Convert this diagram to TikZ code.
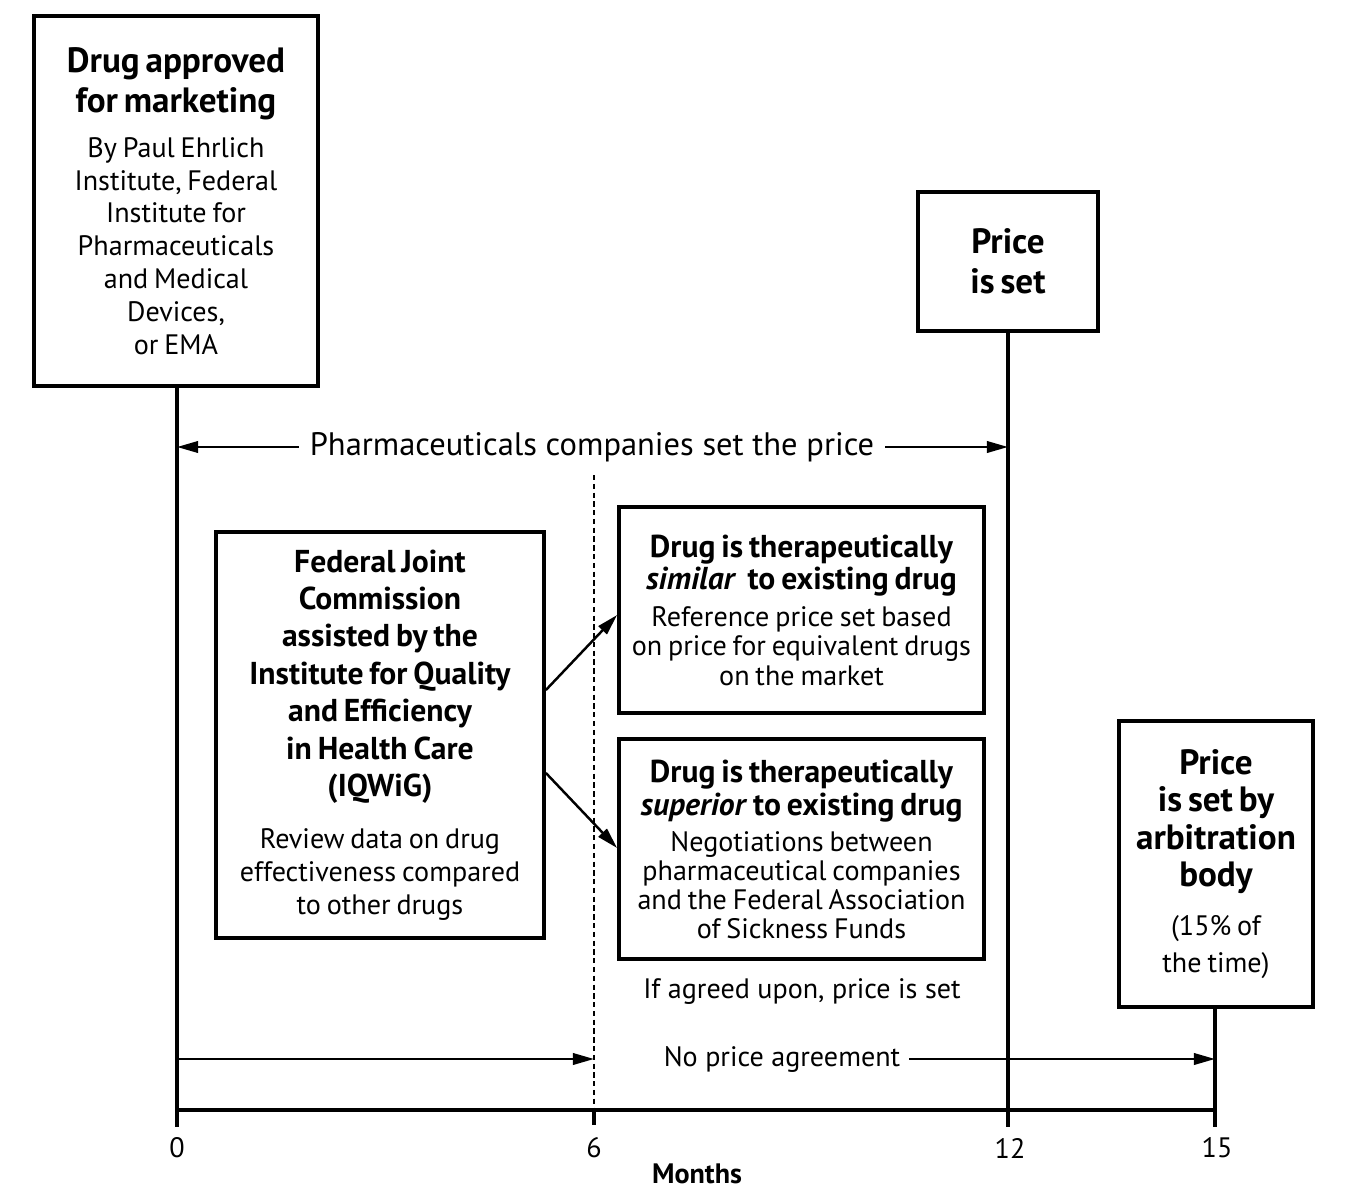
\documentclass[tikz,border=0pt]{standalone}
\usepackage{fontspec}
\setmainfont{PT Sans}
\usetikzlibrary{arrows.meta, positioning, calc}

\newcommand{\headfont}{\fontsize{20}{22.7}\selectfont\bfseries}
\newcommand{\bodyfont}{\fontsize{16}{18.7}\selectfont\mdseries}

\begin{document}
\begin{tikzpicture}[x=0.02cm, y=-0.02cm,
        box/.style={draw=black, line width=2.2pt, align=center, inner sep=0pt},
        axisline/.style={line width=2.3pt},
        arr/.style={line width=1.4pt, -{Triangle[length=12pt, width=6.5pt]}},
        txt/.style={font=\bodyfont, align=center, inner sep=0pt}
    ]
    \useasboundingbox (0,0) rectangle (1350,1200);

    % boxes
    \node[box, minimum width=5.68cm, minimum height=7.4cm, text width=5.4cm] (approved) at (176,201)
        {\headfont Drug approved\\ for marketing\par\vspace{7pt}
         \bodyfont By Paul Ehrlich\\ Institute, Federal\\ Institute for\\ Pharmaceuticals\\ and Medical\\ Devices,\\ or EMA\par};
    \node[box, minimum width=3.6cm, minimum height=2.78cm, text width=3.4cm] (priceset) at (1008,261.5)
        {\headfont Price\\ is set\par};
    \node[box, minimum width=3.88cm, minimum height=5.72cm, text width=3.7cm] (arbitration) at (1216,864)
        {\fontsize{20}{21.3}\selectfont\bfseries Price\\ is set by\\ arbitration\\ body\par\vspace{7pt}
         \fontsize{16}{21}\selectfont\mdseries (15\% of\\ the time)\par};
    \node[box, minimum width=6.56cm, minimum height=8.12cm, text width=6.4cm] (gba) at (380,735)
        {\fontsize{18}{21.3}\selectfont\bfseries Federal Joint\\ Commission\\ assisted by the\\ Institute for Quality\\ and Efficiency\\ in Health Care\\ (IQWiG)\par\vspace{11pt}
         \bodyfont Review data on drug\\ effectiveness compared\\ to other drugs\par};
    \node[box, minimum width=7.3cm, minimum height=4.12cm, text width=7.2cm] (similar) at (801.5,610)
        {\fontsize{18}{18.7}\selectfont\bfseries Drug is therapeutically\\ \textit{similar}\, to existing drug\par\vspace{4pt}
         \fontsize{16}{16.7}\selectfont\mdseries Reference price set based\\ on price for equivalent drugs\\ on the market\par};
    \node[box, minimum width=7.3cm, minimum height=4.4cm, text width=7.2cm] (superior) at (801.5,849)
        {\fontsize{18}{18.7}\selectfont\bfseries Drug is therapeutically\\ \textit{superior} to existing drug\par\vspace{4pt}
         \fontsize{16}{16.5}\selectfont\mdseries Negotiations between\\ pharmaceutical companies\\ and the Federal Association\\ of Sickness Funds\par};

    % time axis
    \coordinate (m0) at (177,1110);
    \coordinate (m6) at (594,1110);
    \coordinate (m12) at (1008,1110);
    \coordinate (m15) at (1215,1110);
    \draw[axisline] (m0) -- (m15);
    \draw[axisline] (approved.south -| m0) -- ++(0,739);
    \draw[axisline] (priceset.south -| m12) -- ++(0,794);
    \draw[axisline] (arbitration.south -| m15) -- ++(0,118);
    \draw[line width=1pt, dash pattern=on 3pt off 2pt] (594,475) -- (m6);
    \draw[axisline] (m6) -- ++(0,15);

    \node[txt] (l0) at (177,1148) {0};
    \node[txt] (l6) at (594,1148) {6};
    \node[txt] (l12) at (1010,1148) {12};
    \node[txt] (l15) at (1217,1148) {15};
    \node[txt, font=\bodyfont\bfseries] (months) at (697,1174) {Months};

    % labels and arrows
    \node[txt, font=\fontsize{18.5}{20}\selectfont, inner xsep=6pt] (pharma) at (592,447) {Pharmaceuticals companies set the price};
    \draw[arr] (pharma.west) -- (pharma.west -| m0);
    \draw[arr] (pharma.east) -- (pharma.east -| m12);

    \node[txt] (agreed) at (802,992) {If agreed upon, price is set};

    \node[txt, inner xsep=5pt] (noagree) at (782,1059) {No price agreement};
    \draw[arr] (m0 |- noagree) -- (m6 |- noagree);
    \draw[arr] (noagree.east) -- (m15 |- noagree);

    \draw[arr] ($(gba.east)+(0,-45)$) -- ($(similar.west)+(0,5)$);
    \draw[arr] ($(gba.east)+(0,38)$) -- ($(superior.west)+(0,-1)$);
\end{tikzpicture}
\end{document}
